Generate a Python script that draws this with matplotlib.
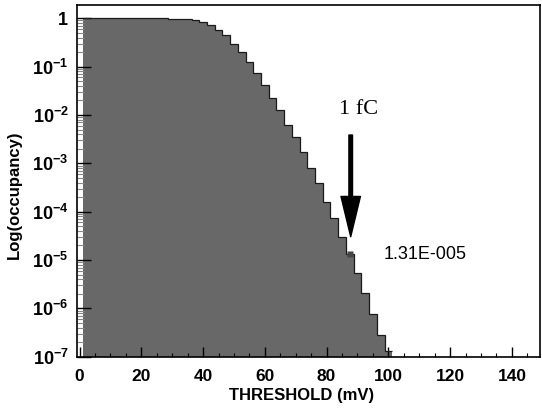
import numpy as np
import matplotlib
matplotlib.use("Agg")
import matplotlib.pyplot as plt
from matplotlib.ticker import FixedLocator, LogLocator, MultipleLocator, NullFormatter

plt.rcParams["font.family"] = ["Liberation Sans", "DejaVu Sans"]
plt.rcParams["mathtext.fontset"] = "custom"
plt.rcParams["mathtext.rm"] = "Liberation Sans"
plt.rcParams["mathtext.bf"] = "Liberation Sans:bold"

# threshold bins (mV), 2.5 mV wide
bin_edges = np.arange(1.25, 101.26, 2.5)
occupancy = [1.0, 1.0, 1.0, 1.0, 1.0, 1.0, 1.0, 1.0,
             0.99, 0.99, 0.99, 0.985, 0.98, 0.96, 0.92,
             0.85, 0.73, 0.57, 0.45, 0.30, 0.204, 0.126, 0.0728,
             0.0417, 0.0221, 0.0127, 0.0062, 0.00355, 0.00174,
             7.9e-4, 3.86e-4, 1.61e-4, 7.3e-5, 3.03e-5, 1.31e-5,
             5.3e-6, 2.06e-6, 7.6e-7, 2.8e-7, 1.3e-7]

marker_x, marker_y = 87.5, 1.31e-5
arrow_x, arrow_tail, arrow_tip = 87.8, 3.85e-3, 3.03e-5

y_ticks = [1e-7, 1e-6, 1e-5, 1e-4, 1e-3, 1e-2, 1e-1, 1]
y_labels = [r"$\mathbf{10^{-7}}$", r"$\mathbf{10^{-6}}$", r"$\mathbf{10^{-5}}$",
            r"$\mathbf{10^{-4}}$", r"$\mathbf{10^{-3}}$", r"$\mathbf{10^{-2}}$",
            r"$\mathbf{10^{-1}}$", r"$\mathbf{1}$"]
x_ticks = [0, 20, 40, 60, 80, 100, 120, 140]

fig = plt.figure(figsize=(5.42, 4.08), dpi=100)
ax = fig.add_axes([0.142, 0.1257, 0.8543, 0.862])

ax.set_yscale("log")
ax.stairs(occupancy, bin_edges, fill=True, baseline=1e-9,
          facecolor="#686868", edgecolor="none", zorder=1)
ax.stairs(occupancy, bin_edges, baseline=None, color="#1a1a1a", lw=0.9, zorder=2)
ax.plot([marker_x], [marker_y], marker="s", ms=5, color="#454545", mec="none", zorder=3)

ax.annotate("", xy=(arrow_x, arrow_tip), xytext=(arrow_x, arrow_tail),
            arrowprops=dict(facecolor="black", edgecolor="black", width=2.6,
                            headwidth=14, headlength=29, shrink=0))
ax.text(90.5, 0.0127, "1 fC", family=["Liberation Serif"], fontsize=16,
        ha="center", va="center")
ax.text(98.5, marker_y, "1.31E-005", fontsize=13, ha="left", va="center")

ax.set_xlim(-0.85, 149.1)
ax.set_ylim(1e-7, 1.88)

ax.xaxis.set_major_locator(FixedLocator(x_ticks))
ax.xaxis.set_minor_locator(MultipleLocator(5))
ax.set_xticklabels([str(t) for t in x_ticks], fontweight="bold", fontsize=12.5)
ax.yaxis.set_major_locator(FixedLocator(y_ticks))
ax.set_yticklabels(y_labels, fontsize=13)
ax.yaxis.set_minor_locator(LogLocator(base=10, subs=np.arange(2, 10), numticks=20))
ax.yaxis.set_minor_formatter(NullFormatter())

ax.tick_params(axis="x", which="major", direction="in", length=7, width=1, pad=9, top=False)
ax.tick_params(axis="x", which="minor", direction="in", length=3, width=0.8, top=False)
ax.tick_params(axis="y", which="major", direction="in", length=10, width=1, pad=6, right=False)
ax.tick_params(axis="y", which="minor", direction="in", length=5, width=0.8,
               color="#888888", right=False)

for s in ax.spines.values():
    s.set_linewidth(1.2)

ax.set_xlabel("THRESHOLD (mV)", fontsize=12, fontweight="bold")
ax.set_ylabel("Log(occupancy)", fontsize=12, fontweight="bold")
ax.xaxis.set_label_coords(0.486, -0.088)
ax.yaxis.set_label_coords(-0.119, 0.46)

fig.savefig("out.png", dpi=100)
